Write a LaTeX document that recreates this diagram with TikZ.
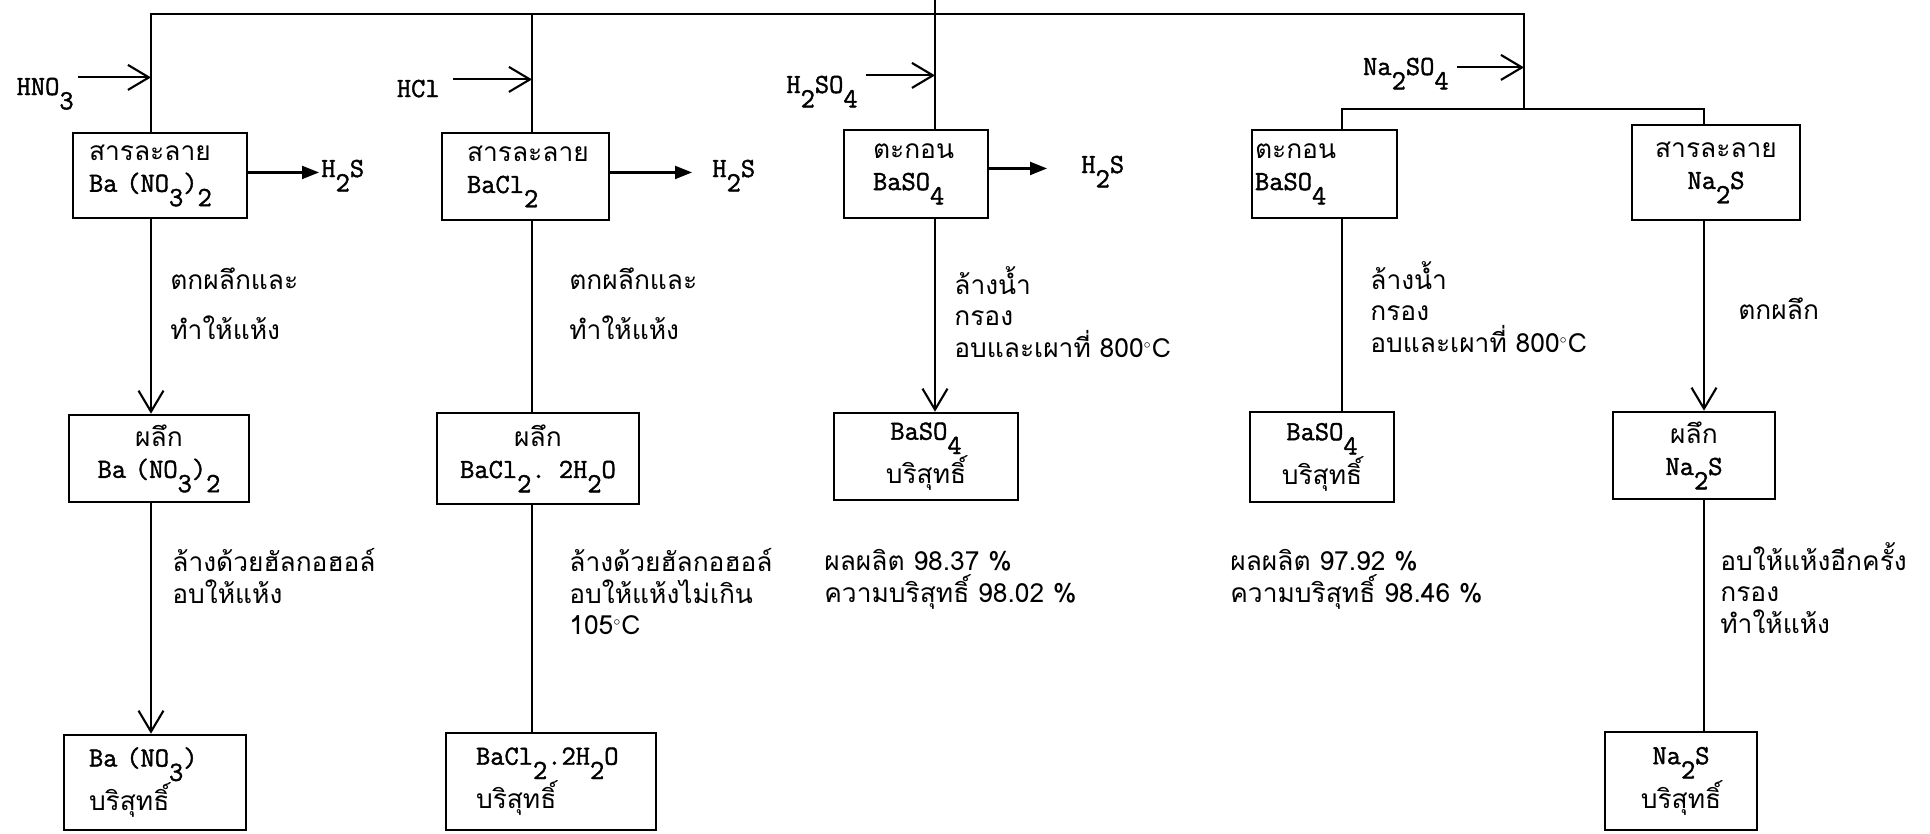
\documentclass[tikz,border=0pt]{standalone}
\usepackage{fontspec}
\setmainfont{Loma}[Script=Thai]
\setmonofont{Latin Modern Mono}[Scale=1.05, FakeBold=1.5]
\usetikzlibrary{arrows.meta}

\newcommand{\dn}[1]{\raisebox{-1.2ex}{#1}}
\newcommand{\degc}{$^{\scriptscriptstyle\circ}$C}

\begin{document}
\begin{tikzpicture}[x=0.02cm, y=-0.02cm,
    every node/.style={inner sep=0pt, font=\fontsize{15}{18}\selectfont},
    box/.style={draw, line width=1.5pt, inner ysep=0pt},
    chem/.style={font=\fontsize{15}{18}\selectfont\ttfamily},
    flow/.style={line width=1.2pt},
    feed/.style={flow, -{Straight Barb[length=0.42cm,width=0.5cm]}},
    gas/.style={flow, -{Triangle[length=0.34cm,width=0.26cm]}},
    note/.style={anchor=north west, align=left}]
  \useasboundingbox (0,0) rectangle (1930,833);

  % first row
  \node[box, text width=2.84cm, inner xsep=0.32cm, minimum height=1.70cm, align=left] (b1) at (160,175.5) {สารละลาย\\{\ttfamily Ba (NO\dn{3})\dn{2}}};
  \node[box, text width=2.34cm, inner xsep=0.50cm, minimum height=1.74cm, align=left] (b2) at (525.5,176.5) {สารละลาย\\{\ttfamily BaCl\dn{2}}};
  \node[box, text width=1.72cm, inner xsep=0.58cm, minimum height=1.76cm, align=left] (b3) at (916,174) {ตะกอน\\{\ttfamily BaSO\dn{4}}};
  \node[box, text width=2.78cm, inner xsep=0.06cm, minimum height=1.76cm, align=left] (b4) at (1324.5,174) {ตะกอน\\{\ttfamily BaSO\dn{4}}};
  \node[box, text width=2.96cm, inner xsep=0.20cm, minimum height=1.90cm, align=center] (b5) at (1716,172.5) {สารละลาย\\{\ttfamily Na\dn{2}S}};

  % second row
  \node[box, text width=3.20cm, inner xsep=0.20cm, minimum height=1.74cm, align=center] (b6) at (159,458.5) {ผลึก\\{\ttfamily Ba (NO\dn{3})\dn{2}}};
  \node[box, text width=3.64cm, inner xsep=0.20cm, minimum height=1.82cm, align=center] (b7) at (538,458.5) {ผลึก\\{\ttfamily BaCl\dn{2}. 2H\dn{2}O}};
  \node[box, text width=3.28cm, inner xsep=0.20cm, minimum height=1.74cm, align=center] (b8) at (926,456.5) {{\ttfamily BaSO\dn{4}}\\บริสุทธิ์};
  \node[box, text width=2.48cm, inner xsep=0.20cm, minimum height=1.80cm, align=center] (b9) at (1322,457) {{\ttfamily BaSO\dn{4}}\\บริสุทธิ์};
  \node[box, text width=2.84cm, inner xsep=0.20cm, minimum height=1.74cm, align=center] (b10) at (1694,455.5) {ผลึก\\{\ttfamily Na\dn{2}S}};

  % third row
  \node[box, text width=2.64cm, inner xsep=0.50cm, minimum height=1.90cm, align=left] (b11) at (155,782.5) {{\ttfamily Ba (NO\dn{3})}\\บริสุทธิ์};
  \node[box, text width=3.00cm, inner xsep=0.60cm, minimum height=1.94cm, align=left] (b12) at (551,781.5) {{\ttfamily BaCl\dn{2}.2H\dn{2}O}\\บริสุทธิ์};
  \node[box, text width=2.64cm, inner xsep=0.20cm, minimum height=1.96cm, align=center] (b13) at (1681,781) {{\ttfamily Na\dn{2}S}\\บริสุทธิ์};

  % main line and branches
  \coordinate (c1) at (151,14);
  \coordinate (c2) at (532,14);
  \coordinate (c3) at (935,0);
  \coordinate (c4) at (1342,109);
  \coordinate (c5) at (1704,109);
  \coordinate (tr) at (1524,14);
  \coordinate (fork) at (1524,109);
  \draw[flow] (b1.north -| c1) -- (c1) -- (tr) -- (fork);
  \draw[flow] (c2) -- (b2.north -| c2);
  \draw[flow] (c3) -- (b3.north -| c3);
  \draw[flow] (b4.north -| c4) -- (c4) -- (c5) -- (b5.north -| c5);

  % reagents
  \node[chem, anchor=base east] (hno3) at (74,95) {HNO\dn{3}};
  \node[chem, anchor=base east] (hcl) at (440,97) {HCl};
  \node[chem, anchor=base east] (h2so4) at (858,93) {H\dn{2}SO\dn{4}};
  \node[chem, anchor=base east] (na2so4) at (1449,75) {Na\dn{2}SO\dn{4}};
  \draw[feed] ([xshift=0.08cm]hno3.north east) -- (hno3.north east -| c1);
  \draw[feed] ([xshift=0.26cm]hcl.north east) -- (hcl.north east -| c2);
  \draw[feed] ([xshift=0.16cm]h2so4.north east) -- (h2so4.north east -| c3);
  \draw[feed] ([shift={(8,10)}]na2so4.north east) coordinate (na) -- (na -| fork);

  % gas out
  \node[chem, anchor=base west] (g1) at (321,177) {H\dn{2}S};
  \node[chem, anchor=base west] (g2) at (712,177) {H\dn{2}S};
  \node[chem, anchor=base west] (g3) at (1081,173) {H\dn{2}S};
  \draw[gas] (b1.east |- g1.mid) -- ([xshift=-0.04cm]g1.mid west);
  \draw[gas] (b2.east |- g2.mid) -- ([xshift=-0.40cm]g2.mid west);
  \draw[gas] (b3.east |- g3.mid) -- ([xshift=-0.68cm]g3.mid west);

  % down the columns
  \draw[feed] (b1.south -| c1) -- (b6.north -| c1);
  \draw[feed] (b6.south -| c1) -- (b11.north -| c1);
  \draw[flow] (b2.south -| c2) -- (b7.north -| c2);
  \draw[flow] (b7.south -| c2) -- (b12.north -| c2);
  \draw[feed] (b3.south -| c3) -- (b8.north -| c3);
  \draw[flow] (b4.south -| c4) -- (b9.north -| c4);
  \draw[feed] (b5.south -| c5) -- (b10.north -| c5);
  \draw[flow] (b10.south -| c5) -- (b13.north -| c5);

  % steps
  \foreach \n/\x in {t1/170, t2/569}
    \node[note] (\n) at (\x,268) {ตกผลึกและ\\[0.36cm]ทำให้แห้ง};
  \foreach \n/\x/\y in {t3/954/266, t4/1370/261}
    \node[note] (\n) at (\x,\y) {ล้างน้ำ\\กรอง\\อบและเผาที่ 800\degc};
  \node[note] (t5) at (1738,298) {ตกผลึก};
  \node[note] (t6) at (172,548) {ล้างด้วยฮัลกอฮอล์\\อบให้แห้ง};
  \node[note] (t7) at (569,548) {ล้างด้วยฮัลกอฮอล์\\อบให้แห้งไม่เกิน\\105\degc};
  \node[note] (t8) at (824,549) {ผลผลิต 98.37 \%\\ความบริสุทธิ์ 98.02 \%};
  \node[note] (t9) at (1230,549) {ผลผลิต 97.92 \%\\ความบริสุทธิ์ 98.46 \%};
  \node[note] (t10) at (1720,542) {อบให้แห้งอีกครั้ง\\กรอง\\ทำให้แห้ง};
\end{tikzpicture}
\end{document}
